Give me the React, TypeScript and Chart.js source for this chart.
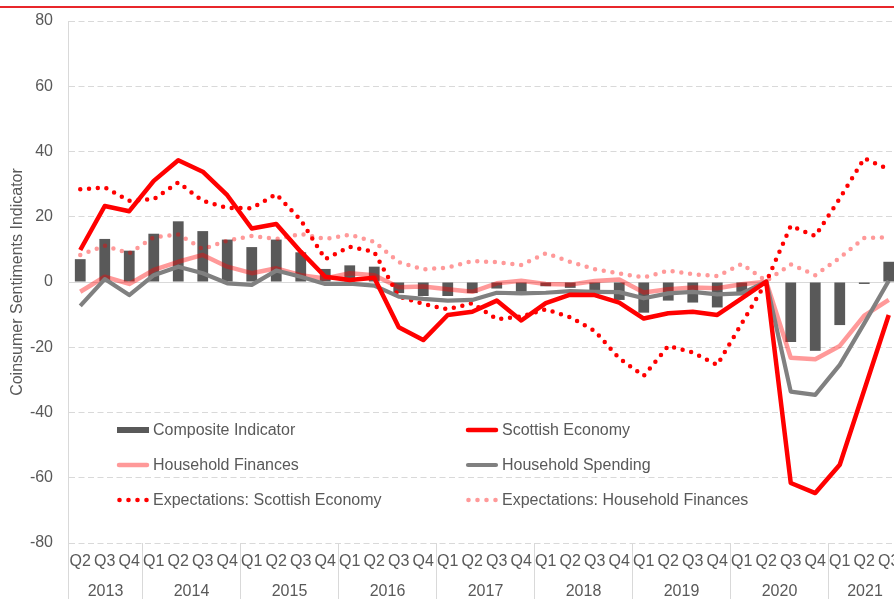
import React, { useEffect, useRef } from "react";
import { Chart, registerables } from "chart.js";

Chart.register(...registerables);

const quarterLabels = [
  "Q2", "Q3", "Q4",
  "Q1", "Q2", "Q3", "Q4",
  "Q1", "Q2", "Q3", "Q4",
  "Q1", "Q2", "Q3", "Q4",
  "Q1", "Q2", "Q3", "Q4",
  "Q1", "Q2", "Q3", "Q4",
  "Q1", "Q2", "Q3", "Q4",
  "Q1", "Q2", "Q3", "Q4",
  "Q1", "Q2", "Q3",
];

const yearLabels = [
  "2013", "2013", "2013",
  "2014", "2014", "2014", "2014",
  "2015", "2015", "2015", "2015",
  "2016", "2016", "2016", "2016",
  "2017", "2017", "2017", "2017",
  "2018", "2018", "2018", "2018",
  "2019", "2019", "2019", "2019",
  "2020", "2020", "2020", "2020",
  "2021", "2021", "2021",
];

const compositeIndicator = [
  7.0, 13.2, 9.6,
  14.8, 18.6, 15.6, 13.0,
  10.7, 13.0, 9.1, 4.0,
  5.1, 4.7, -3.4, -4.3,
  -4.3, -3.4, -2.0, -3.0,
  -1.3, -1.8, -2.6, -5.5,
  -9.4, -5.7, -6.3, -7.8,
  -4.0, 0, -18.4, -21.1,
  -13.2, -0.6, 6.2,
];

const scottishEconomy = [
  9.8, 23.3, 21.7,
  31.0, 37.3, 33.8, 26.6,
  16.4, 17.8, 9.3, 1.6,
  0.6, 1.3, -13.9, -17.8,
  -10.1, -9.1, -5.7, -11.8,
  -6.5, -3.9, -4.0, -6.3,
  -11.2, -9.6, -9.1, -10.1,
  -5.0, 0.1, -61.6, -64.7,
  -56.0, -33.1, -10.1,
];

const householdFinances = [
  -3.0, 1.6, -0.6,
  3.7, 6.2, 8.3, 4.7,
  2.7, 4.2, 2.1, 1.1,
  2.7, 2.1, -1.6, -1.4,
  -2.2, -3.0, -0.4, 0.4,
  -0.6, -0.8, 0.3, 0.8,
  -3.2, -2.2, -1.7, -1.9,
  -0.7, 0.1, -23.2, -23.7,
  -19.6, -10.3, -5.5,
];

const householdSpending = [
  -7.3, 0.9, -4.0,
  2.1, 4.7, 2.7, -0.4,
  -0.9, 3.5, 1.6, -0.6,
  -0.5, -1.1, -4.5, -5.2,
  -5.7, -5.5, -3.3, -3.5,
  -3.3, -2.8, -3.0, -3.1,
  -5.0, -3.5, -3.0, -3.8,
  -3.5, 0.1, -33.6, -34.6,
  -25.4, -12.7, 0.4,
];

const expScottishEconomy = [
  28.4, 29.0, 24.9,
  25.4, 30.5, 24.9, 22.7,
  22.6, 26.9, 19.0, 7.0,
  10.8, 9.2, -4.5, -6.7,
  -8.4, -6.5, -11.4, -10.6,
  -8.4, -10.8, -15.0, -23.4,
  -28.8, -19.6, -21.6, -25.4,
  -12.7, 0, 17.2, 14.1,
  25.6, 37.9, 34.5,
];

const expHouseholdFinances = [
  8.3, 11.1, 8.8,
  13.7, 14.6, 10.1, 12.7,
  14.1, 13.2, 14.7, 13.2,
  14.5, 12.3, 6.1, 3.9,
  4.4, 6.4, 6.1, 5.2,
  8.8, 6.2, 3.9, 2.6,
  1.4, 3.5, 2.4, 1.8,
  5.5, 0.3, 5.4, 2.1,
  7.4, 13.5, 13.7,
];

const yTicks = { min: -80, max: 80, step: 20 };

const FONT = "'Liberation Sans', Arial, Helvetica, sans-serif";
const TEXT = "#595959";
const GRID = "#d9d9d9";
const RED = "#ff0000";
const PINK = "rgba(255,0,0,0.4)";
const GREY = "#808080";
const BAR = "#595959";

const legendLayout = [
  { ds: 0, col: 0, row: 0 },
  { ds: 1, col: 1, row: 0 },
  { ds: 2, col: 0, row: 1 },
  { ds: 3, col: 1, row: 1 },
  { ds: 4, col: 0, row: 2 },
  { ds: 5, col: 1, row: 2 },
];
const legendCols = [117, 466];
const legendRows = [430, 465, 500];

const legendPlugin = {
  id: "insideLegend",
  afterDraw(chart: any) {
    const ctx = chart.ctx as CanvasRenderingContext2D;
    ctx.save();
    ctx.font = `16px ${FONT}`;
    ctx.textBaseline = "middle";
    ctx.textAlign = "left";
    for (const it of legendLayout) {
      const ds = chart.data.datasets[it.ds];
      const x = legendCols[it.col];
      const y = legendRows[it.row];
      if (ds.type === "bar") {
        ctx.fillStyle = ds.backgroundColor;
        ctx.fillRect(x, y - 3, 32, 6);
      } else if (ds.borderDash && ds.borderDash.length) {
        ctx.fillStyle = ds.borderColor;
        for (let k = 0; k < 4; k++) {
          ctx.beginPath();
          ctx.arc(x + 2.5 + k * 9, y, 2.3, 0, Math.PI * 2);
          ctx.fill();
        }
      } else {
        ctx.strokeStyle = ds.borderColor;
        ctx.lineWidth = ds.borderWidth;
        ctx.lineCap = "round";
        ctx.beginPath();
        ctx.moveTo(x + 2, y);
        ctx.lineTo(x + 30, y);
        ctx.stroke();
      }
      ctx.fillStyle = TEXT;
      ctx.fillText(ds.label, x + 36, y + 1);
    }
    ctx.restore();
  },
};

const yearAxisPlugin = {
  id: "yearAxis",
  afterDraw(chart: any) {
    const ctx = chart.ctx as CanvasRenderingContext2D;
    const xs = chart.scales.x;
    const n = yearLabels.length;
    const half = (xs.getPixelForValue(1) - xs.getPixelForValue(0)) / 2;
    const top = chart.chartArea.bottom;
    const bottom = chart.height;
    ctx.save();
    ctx.strokeStyle = GRID;
    ctx.lineWidth = 1;
    ctx.fillStyle = TEXT;
    ctx.font = `16px ${FONT}`;
    ctx.textAlign = "center";
    ctx.textBaseline = "middle";
    let start = 0;
    for (let i = 1; i <= n; i++) {
      if (i === n || yearLabels[i] !== yearLabels[start]) {
        const l = Math.round(xs.getPixelForValue(start) - half) + 0.5;
        const r = Math.round(xs.getPixelForValue(i - 1) + half) + 0.5;
        ctx.beginPath();
        ctx.moveTo(l, top);
        ctx.lineTo(l, bottom);
        ctx.moveTo(r, top);
        ctx.lineTo(r, bottom);
        ctx.stroke();
        ctx.fillText(yearLabels[start], (l + r) / 2, top + 49);
        start = i;
      }
    }
    ctx.restore();
  },
};

export default function App() {
  const ref = useRef<HTMLCanvasElement>(null);

  useEffect(() => {
    document.body.style.margin = "0";
    document.body.style.overflow = "hidden";
    const chart = new Chart(ref.current as HTMLCanvasElement, {
      type: "bar",
      data: {
        labels: quarterLabels,
        datasets: [
          {
            type: "bar",
            label: "Composite Indicator",
            data: compositeIndicator,
            backgroundColor: BAR,
            barPercentage: 0.44,
            categoryPercentage: 1,
            order: 6,
          },
          {
            type: "line",
            label: "Scottish Economy",
            data: scottishEconomy,
            borderColor: RED,
            borderWidth: 4.5,
            pointRadius: 0,
            tension: 0,
            fill: false,
            borderJoinStyle: "round",
            order: 1,
          },
          {
            type: "line",
            label: "Household Finances",
            data: householdFinances,
            borderColor: PINK,
            borderWidth: 4.5,
            pointRadius: 0,
            tension: 0,
            fill: false,
            borderJoinStyle: "round",
            order: 3,
          },
          {
            type: "line",
            label: "Household Spending",
            data: householdSpending,
            borderColor: GREY,
            borderWidth: 4.2,
            pointRadius: 0,
            tension: 0,
            fill: false,
            borderJoinStyle: "round",
            order: 2,
          },
          {
            type: "line",
            label: "Expectations: Scottish Economy",
            data: expScottishEconomy,
            borderColor: RED,
            borderWidth: 4.5,
            borderDash: [0, 8.8],
            borderCapStyle: "round",
            pointRadius: 0,
            tension: 0,
            fill: false,
            order: 4,
          },
          {
            type: "line",
            label: "Expectations: Household Finances",
            data: expHouseholdFinances,
            borderColor: PINK,
            borderWidth: 4.5,
            borderDash: [0, 8.8],
            borderCapStyle: "round",
            pointRadius: 0,
            tension: 0,
            fill: false,
            order: 5,
          },
        ] as any,
      },
      options: {
        animation: false,
        responsive: false,
        layout: { padding: { top: 21, right: 11, bottom: 0, left: 0 } },
        plugins: {
          legend: { display: false },
          tooltip: { enabled: false },
        },
        scales: {
          x: {
            offset: true,
            grid: { display: false, drawTicks: false },
            border: { display: false },
            ticks: {
              autoSkip: false,
              maxRotation: 0,
              minRotation: 0,
              padding: 9,
              color: TEXT,
              font: { family: FONT, size: 16 },
            },
            afterFit(scale: any) {
              scale.height = 56;
            },
          },
          y: {
            min: yTicks.min,
            max: yTicks.max,
            ticks: {
              stepSize: yTicks.step,
              padding: 0,
              color: TEXT,
              font: { family: FONT, size: 16 },
            },
            grid: {
              color: GRID,
              lineWidth: 1,
              drawTicks: true,
              tickLength: 15,
              tickColor: "rgba(0,0,0,0)",
            },
            border: {
              display: true,
              color: GRID,
              width: 1,
              dash: (ctx: any) =>
                ctx.type === "tick" && ctx.tick && ctx.tick.value !== 0 ? [6, 3.5] : [],
            },
            title: {
              display: true,
              text: "Coinsumer Sentiments Indicator",
              color: TEXT,
              font: { family: FONT, size: 16 },
              padding: { top: 8, bottom: 0 },
            },
            afterFit(scale: any) {
              scale.width = 68;
            },
          },
        },
      } as any,
      plugins: [legendPlugin, yearAxisPlugin],
    });
    return () => chart.destroy();
  }, []);

  return (
    <div
      style={{
        position: "relative",
        width: 894,
        height: 599,
        overflow: "hidden",
        background: "#ffffff",
      }}
    >
      <canvas
        ref={ref}
        width={912}
        height={599}
        style={{ position: "absolute", left: 0, top: 0, width: 912, height: 599 }}
      />
      <div
        style={{
          position: "absolute",
          left: 0,
          top: 6,
          width: "100%",
          height: 2,
          background: "#e8262b",
        }}
      />
    </div>
  );
}
